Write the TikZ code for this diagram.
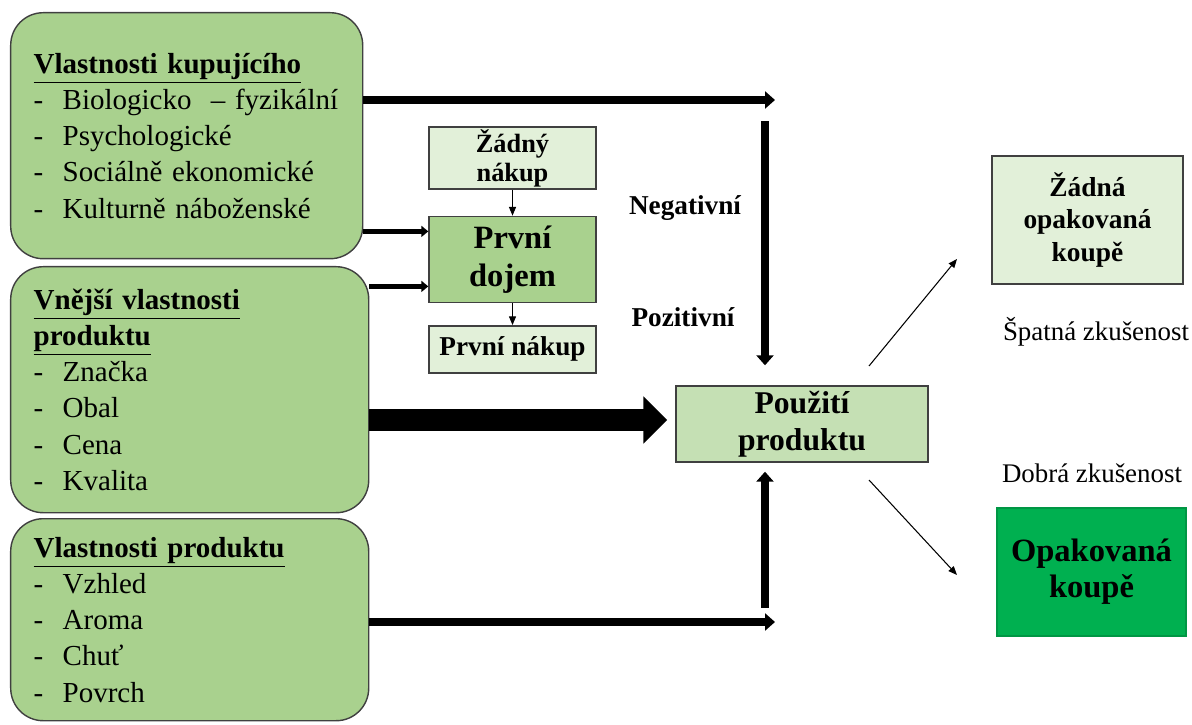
\documentclass[tikz,border=0pt]{standalone}
\usepackage{fontspec}
\setmainfont{Liberation Serif}
\usepackage{tikz}
\usetikzlibrary{arrows.meta,positioning,calc}
\usepackage{xcolor}

\definecolor{propgreen}{HTML}{A9D18E}
\definecolor{palegreen}{HTML}{E2F0D9}
\definecolor{usegreen}{HTML}{C5E0B4}
\definecolor{repgreen}{HTML}{00B050}
\definecolor{edgegray}{HTML}{404040}

\newcommand{\polozka}[1]{\makebox[0.58cm][l]{-}#1}

\begin{document}
\begin{tikzpicture}[
    propbox/.style={draw=edgegray, line width=0.8pt, fill=propgreen, rounded corners=0.65cm, align=left, inner xsep=0.46cm, anchor=north west, font=\fontsize{16.5}{20.6}\selectfont},
    stepbox/.style={draw=edgegray, line width=0.8pt, fill=palegreen, align=center, inner sep=1pt, minimum width=3.34cm, font=\bfseries\fontsize{15}{16.5}\selectfont},
    resbox/.style={draw=edgegray, line width=0.8pt, align=center, inner sep=1pt, font=\bfseries},
    arrow/.style={-{Triangle[length=0.2cm, width=0.34cm]}, line width=0.15cm},
    midarrow/.style={-{Triangle[length=0.14cm, width=0.22cm]}, line width=0.1cm},
    bigarrow/.style={-{Triangle[length=0.48cm, width=0.92cm]}, line width=0.44cm},
    thinarrow/.style={-{Triangle[length=5pt, width=4pt]}, line width=0.6pt},
    lbl/.style={font=\bfseries\fontsize{15.5}{18}\selectfont},
    explbl/.style={font=\fontsize{15.3}{18}\selectfont}
  ]
  \useasboundingbox (0,0) rectangle (23.84,-14.5);

  % Left column: properties
  \node[propbox, text width=6.12cm, minimum height=4.92cm] (kupujici) at (0.2,-0.24)
    {\underline{\textbf{Vlastnosti kupujícího}}\\
     \polozka{Biologicko~ – fyzikální}\\
     \polozka{Psychologické}\\
     \polozka{Sociálně ekonomické}\\
     \polozka{Kulturně náboženské}};
  \node[propbox, text width=6.24cm, minimum height=4.92cm] (vnejsi) at (0.2,-5.32)
    {\underline{\textbf{Vnější vlastnosti}}\\
     \underline{\textbf{produktu}}\\
     \polozka{Značka}\\
     \polozka{Obal}\\
     \polozka{Cena}\\
     \polozka{Kvalita}};
  \node[propbox, text width=6.24cm, minimum height=4.04cm] (produkt) at (0.2,-10.36)
    {\underline{\textbf{Vlastnosti produktu}}\\
     \polozka{Vzhled}\\
     \polozka{Aroma}\\
     \polozka{Chuť}\\
     \polozka{Povrch}};

  % Middle: first impression
  \node[stepbox, minimum height=1.24cm] (zadny) at (10.25,-3.16) {Žádný\\nákup};
  \node[stepbox, below=0.52cm of zadny, minimum height=1.72cm, fill=propgreen, font=\bfseries\fontsize{18.5}{21.5}\selectfont] (dojem) {První\\dojem};
  \node[stepbox, below=0.44cm of dojem, minimum height=0.94cm, font=\bfseries\fontsize{15.5}{17}\selectfont] (nakup) {První nákup};
  \draw[thinarrow] (zadny) -- (dojem);
  \draw[thinarrow] (dojem) -- (nakup);

  % Product use
  \node[resbox, fill=usegreen, minimum width=5.04cm, minimum height=1.52cm, font=\bfseries\fontsize{18}{21}\selectfont] (pouziti) at (16.04,-8.48) {Použití\\produktu};

  % Results
  \node[resbox, fill=palegreen, minimum width=3.82cm, minimum height=2.56cm, font=\bfseries\fontsize{15.6}{18.4}\selectfont] (zadna) at (21.75,-4.4) {Žádná\\opakovaná\\koupě};
  \node[resbox, draw=repgreen!85!black, fill=repgreen, minimum width=3.78cm, minimum height=2.56cm, font=\bfseries\fontsize{18.5}{20.5}\selectfont] (opak) at (21.83,-11.44) {Opakovaná\\koupě};

  % Labels
  \node[lbl] (neg) at (13.7,-4.16) {Negativní};
  \node[lbl] (poz) at (13.66,-6.34) {Pozitivní};
  \node[explbl] (spatna) at (21.92,-6.64) {Špatná zkušenost};
  \node[explbl] (dobra) at (21.84,-9.46) {Dobrá zkušenost};

  % Free ends of connectors
  \coordinate (kEnd) at (15.5,-2.0);
  \coordinate (pEnd) at (15.5,-12.44);
  \coordinate (negTop) at ($(pouziti.north)+(-0.74,5.28)$);
  \coordinate (negEnd) at ($(pouziti.north)+(-0.74,0.4)$);
  \coordinate (pozTop) at ($(pouziti.south)+(-0.74,-2.9)$);
  \coordinate (pozEnd) at ($(pouziti.south)+(-0.74,-0.18)$);
  \coordinate (dA) at ($(dojem.west)+(0,0.56)$);
  \coordinate (dB) at ($(dojem.west)+(0,-0.54)$);
  \coordinate (pB) at ($(pouziti.west)+(-0.16,0.08)$);
  \coordinate (badA) at (17.38,-7.32);
  \coordinate (badB) at (19.14,-5.18);
  \coordinate (goodA) at (17.38,-9.6);
  \coordinate (goodB) at (19.14,-11.5);

  % Arrows: properties -> use
  \draw[arrow] (kupujici.east |- kEnd) -- (kEnd);
  \draw[arrow] (produkt.east |- pEnd) -- (pEnd);
  \draw[bigarrow] (vnejsi.east |- pB) -- (pB);
  \draw[midarrow] (kupujici.east |- dA) -- (dA);
  \draw[midarrow] (vnejsi.east |- dB) -- (dB);

  % Arrows: vertical into use
  \draw[arrow] (negTop) -- (negEnd);
  \draw[arrow] (pozTop) -- (pozEnd);

  % Arrows: use -> results
  \draw[thinarrow] (badA) -- (badB);
  \draw[thinarrow] (goodA) -- (goodB);

\end{tikzpicture}
\end{document}
